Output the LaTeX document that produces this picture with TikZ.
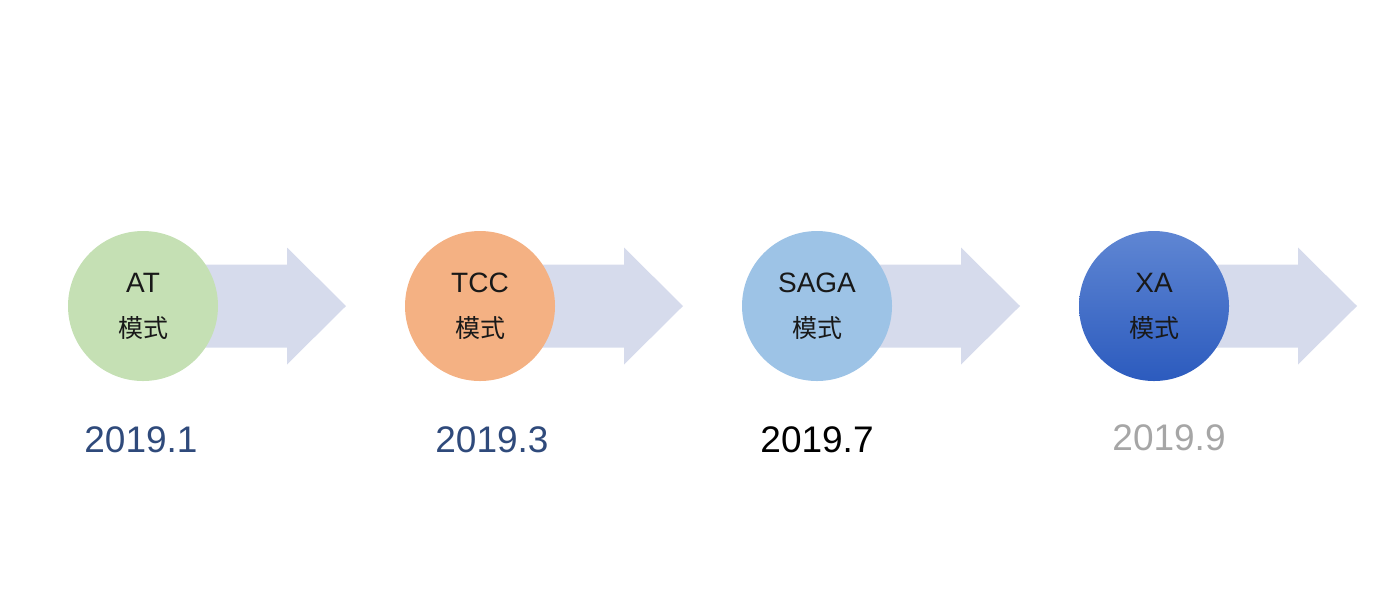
\documentclass[tikz,border=0pt]{standalone}
\usepackage{fontspec}
\setmainfont{Liberation Sans}
\newfontfamily\cjk{Noto Sans CJK SC}
\usepackage{xcolor}
\usepackage{tikz}
\usetikzlibrary{positioning,backgrounds}
\definecolor{atgreen}{HTML}{C5E0B4}
\definecolor{tccorange}{HTML}{F4B183}
\definecolor{sagablue}{HTML}{9DC3E6}
\definecolor{xatop}{HTML}{5F86D3}
\definecolor{xabottom}{HTML}{2C5BBE}
\definecolor{flowfill}{HTML}{D6DBEC}
\definecolor{datenavy}{HTML}{2F4A7B}
\definecolor{dategrey}{HTML}{A6A6A6}
\newcommand{\modetag}{{\fontsize{12.5}{22.5}\selectfont\cjk 模式}}
\tikzset{
  stage/.style = {circle, minimum size=75pt, inner sep=0pt, outer sep=0pt,
                  align=center, font=\fontsize{14}{22.5}\selectfont, text=black!90},
  flow/.style  = {fill=flowfill, draw=none},
  date/.style  = {font=\fontsize{18.5}{22}\selectfont, inner sep=0pt},
}

\begin{document}
\begin{tikzpicture}[x=0.5pt,y=-0.5pt]
  \useasboundingbox (0,0) rectangle (1400,612);

  \node[stage, fill=atgreen] (at) at (143,306) {AT\\\modetag};
  \node[stage, fill=tccorange, right=93.5pt of at] (tcc) {TCC\\\modetag};
  \node[stage, fill=sagablue, right=93.5pt of tcc] (saga) {SAGA\\\modetag};
  \node[stage, top color=xatop, bottom color=xabottom, right=93.5pt of saga] (xa) {XA\\\modetag};

  % --- arrows behind the circles ---
  \begin{scope}[on background layer]
    \fill[flow] (at.center)   ++(0,-41.5) -- ++(144,0) -- ++(0,-17) -- ++(59,58.5)
      -- ++(-59,58.5) -- ++(0,-17) -- ++(-144,0) -- cycle;
    \fill[flow] (tcc.center)  ++(0,-41.5) -- ++(144,0) -- ++(0,-17) -- ++(59,58.5)
      -- ++(-59,58.5) -- ++(0,-17) -- ++(-144,0) -- cycle;
    \fill[flow] (saga.center) ++(0,-41.5) -- ++(144,0) -- ++(0,-17) -- ++(59,58.5)
      -- ++(-59,58.5) -- ++(0,-17) -- ++(-144,0) -- cycle;
    \fill[flow] (xa.center)   ++(0,-41.5) -- ++(144,0) -- ++(0,-17) -- ++(59,58.5)
      -- ++(-59,58.5) -- ++(0,-17) -- ++(-144,0) -- cycle;
  \end{scope}

  % --- dates ---
  \node[date, text=datenavy] (d1) at (141,440) {2019.1};
  \node[date, text=datenavy] (d3) at (492,440) {2019.3};
  \node[date, text=black]    (d7) at (817,440) {2019.7};
  \node[date, text=dategrey] (d9) at (1169,438) {2019.9};
\end{tikzpicture}
\end{document}
